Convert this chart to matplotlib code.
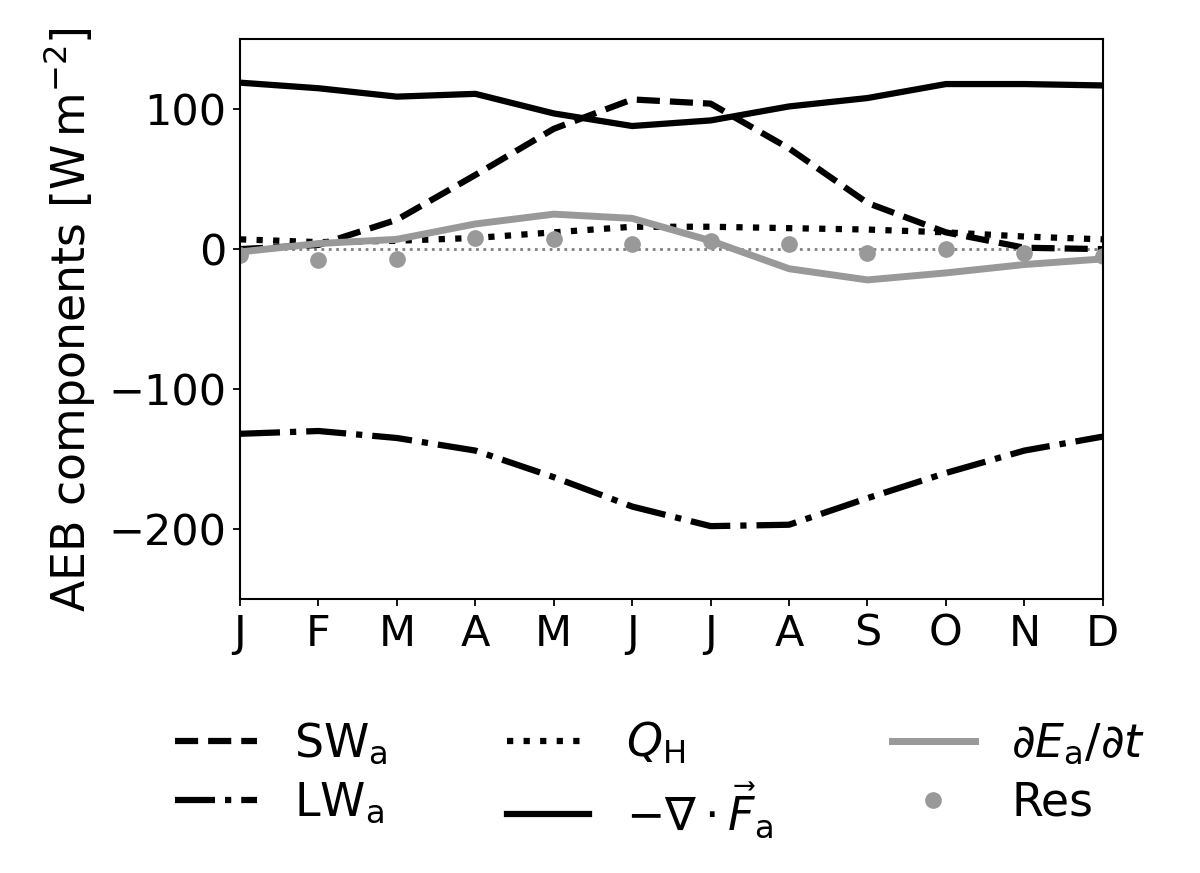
import matplotlib
matplotlib.use("Agg")
import matplotlib.pyplot as plt
import numpy as np

months = ["J", "F", "M", "A", "M", "J", "J", "A", "S", "O", "N", "D"]
sw_a = [0, 3, 21, 53, 86, 107, 104, 72, 33, 12, 1, 0]
lw_a = [-132, -130, -135, -144, -163, -184, -198, -197, -178, -160, -144, -134]
q_h = [7, 5, 6, 8, 12, 16, 16, 15, 14, 12, 9, 7]
div_f = [119, 115, 109, 111, 97, 88, 92, 102, 108, 118, 118, 117]
de_dt = [-2, 4, 7, 18, 25, 22, 6, -14, -22, -17, -11, -7]
res = [-4, -8, -7, 8, 7, 4, 6, 4, -3, 0, -3, -5]

plt.rcParams['font.family'] = ['DejaVu Sans']
plt.rcParams['mathtext.fontset'] = 'dejavusans'

fig = plt.figure(figsize=(12, 8.73), dpi=100)
ax = fig.add_axes([0.2, 0.314, 0.719, 0.641])
x = np.arange(len(months))

ax.axhline(0, color='grey', ls=':', lw=2)
h1, = ax.plot(x, sw_a, color='k', ls='--', lw=4.5, label=r'$\mathrm{SW_a}$')
h2, = ax.plot(x, lw_a, color='k', ls='-.', lw=4.5, label=r'$\mathrm{LW_a}$')
h3, = ax.plot(x, q_h, color='k', ls=':', lw=4.5, label=r'$Q_\mathrm{H}$')
h4, = ax.plot(x, div_f, color='k', ls='-', lw=4.5, label=r'$-\nabla\cdot\vec{F}_\mathrm{a}$')
h5, = ax.plot(x, de_dt, color='#999999', ls='-', lw=5, label=r'$\partial E_\mathrm{a}/\partial t$')
h6, = ax.plot(x, res, color='#999999', ls='none', marker='o', ms=11, label='Res')

ax.set_xlim(0, 11)
ax.set_ylim(-250, 150)
ax.set_xticks(x)
ax.set_xticklabels(months)
ax.set_yticks([-200, -100, 0, 100])
ax.tick_params(labelsize=31, width=1.3, length=5, pad=5)
for s in ax.spines.values():
    s.set_linewidth(1.5)
ax.set_ylabel(r'AEB components [$\mathrm{W\,m^{-2}}$]', fontsize=33, labelpad=8)

fig.legend(handles=[h1, h2, h3, h4, h5, h6], ncol=3, loc='upper center',
           bbox_to_anchor=(0.55, 0.222), frameon=False, fontsize=33,
           handlelength=1.8, columnspacing=2.6, handletextpad=0.8, labelspacing=0.3)

fig.savefig('out.png', dpi=100)
